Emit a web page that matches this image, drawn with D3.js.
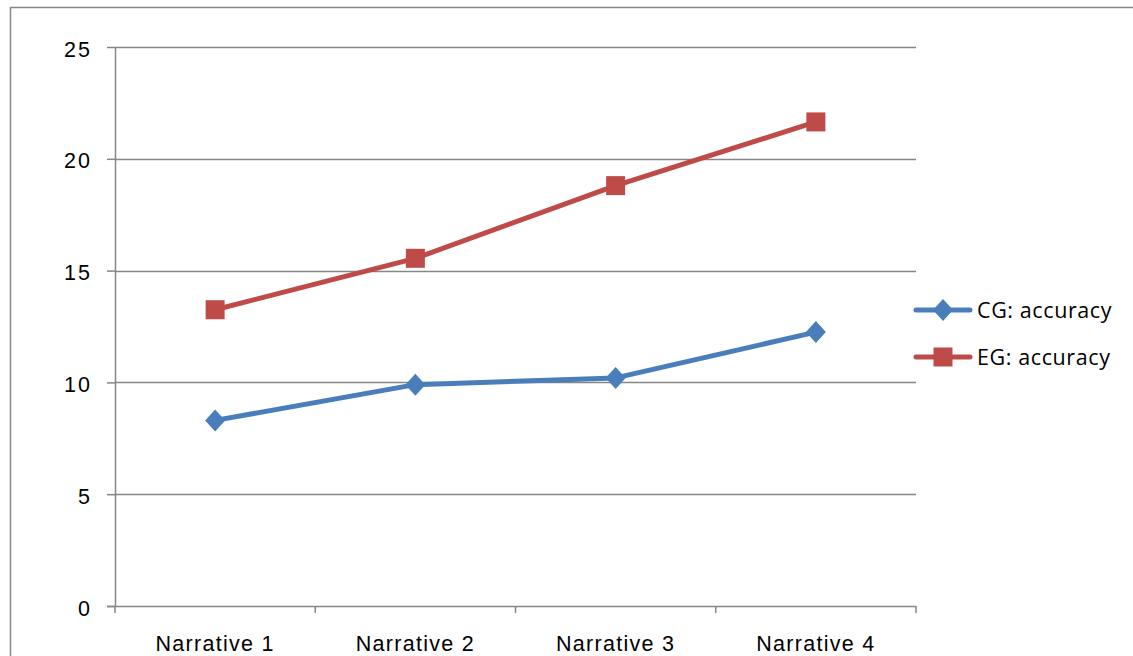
<!DOCTYPE html>
<html>
<head>
<meta charset="utf-8">
<script src="https://cdn.jsdelivr.net/npm/d3@7"></script>
<style>
  html, body { margin: 0; padding: 0; background: #fff; }
  svg { display: block; font-family: "Open Sans", Lato, sans-serif; }
</style>
</head>
<body>
<svg id="chart" width="1133" height="656"></svg>
<script>
// Narrative categories and accuracy per group
const categories = ["Narrative 1", "Narrative 2", "Narrative 3", "Narrative 4"];
const cgAccuracy = [8.3, 9.9, 10.2, 12.25];
const egAccuracy = [13.25, 15.55, 18.8, 21.65];
const seriesNames = ["CG: accuracy", "EG: accuracy"];
const yTicks = [0, 5, 10, 15, 20, 25];

const svg = d3.select("#chart");
const margin = { left: 115, right: 916, top: 47, bottom: 606 };
const gridColor = "#868686";
const fontSize = 21.5;

// outer chart frame
svg.append("rect")
  .attr("x", 10.5).attr("y", 7.5)
  .attr("width", 1140).attr("height", 670)
  .attr("fill", "none").attr("stroke", gridColor).attr("stroke-width", 1.5);

const x = d3.scaleBand().domain(categories).range([margin.left, margin.right]);
const y = d3.scaleLinear().domain([0, 25]).range([margin.bottom, margin.top]);

// horizontal gridlines
svg.append("g").selectAll("line").data(yTicks.filter(d => d > 0)).join("line")
  .attr("x1", margin.left).attr("x2", margin.right)
  .attr("y1", d => Math.round(y(d)) + 0.5).attr("y2", d => Math.round(y(d)) + 0.5)
  .attr("stroke", gridColor).attr("stroke-width", 1.5);

// y axis
const yAxis = svg.append("g")
  .attr("transform", `translate(${margin.left},0)`)
  .call(d3.axisLeft(y).tickValues(yTicks).tickSize(8).tickPadding(15).tickFormat(d3.format("d")));
yAxis.select(".domain").attr("stroke", gridColor).attr("stroke-width", 1.5).attr("d", `M0.5,${margin.top}V${margin.bottom}`);
yAxis.selectAll(".tick line").attr("stroke", gridColor).attr("stroke-width", 1.5);
yAxis.selectAll(".tick text").attr("font-size", fontSize).attr("fill", "#000").attr("dy", "0.42em")
  .attr("letter-spacing", 2);

// x axis with ticks at category boundaries
const xAxis = svg.append("g")
  .attr("transform", `translate(0,${margin.bottom})`)
  .call(d3.axisBottom(x).tickSize(0));
xAxis.select(".domain").attr("stroke", gridColor).attr("stroke-width", 1.5).attr("d", `M${margin.left - 8},0.5H${margin.right}`);
xAxis.selectAll(".tick text").attr("font-size", fontSize).attr("fill", "#000").attr("y", 45).attr("dy", 0)
  .attr("letter-spacing", 1.3);
const bounds = categories.map(c => x(c)).concat([x(categories[categories.length - 1]) + x.bandwidth()]);
xAxis.append("g").selectAll("line").data(bounds).join("line")
  .attr("x1", d => d).attr("x2", d => d).attr("y1", 0).attr("y2", 7)
  .attr("stroke", gridColor).attr("stroke-width", 1.5);

const cx = c => x(c) + x.bandwidth() / 2;
const line = d3.line().x(d => cx(d.cat)).y(d => y(d.v));

const series = [
  { name: seriesNames[0], color: "#4a7ebb", marker: "diamond", values: cgAccuracy },
  { name: seriesNames[1], color: "#be4b48", marker: "square", values: egAccuracy }
];

function drawMarker(g, type, color) {
  if (type === "diamond") {
    g.append("path").attr("d", "M0,-11L10,0L0,11L-10,0Z").attr("fill", color);
  } else {
    g.append("rect").attr("x", -9.5).attr("y", -9.5).attr("width", 19).attr("height", 19).attr("fill", color);
  }
}

series.forEach(s => {
  const pts = s.values.map((v, i) => ({ cat: categories[i], v }));
  svg.append("path").datum(pts)
    .attr("d", line).attr("fill", "none")
    .attr("stroke", s.color).attr("stroke-width", 5).attr("stroke-linejoin", "round");
  pts.forEach(p => {
    const g = svg.append("g").attr("transform", `translate(${cx(p.cat)},${y(p.v)})`);
    drawMarker(g, s.marker, s.color);
  });
});

// legend
const legend = svg.append("g").attr("transform", "translate(916,310)");
series.forEach((s, i) => {
  const g = legend.append("g").attr("transform", `translate(0,${i * 47})`);
  g.append("line").attr("x1", 0).attr("x2", 54).attr("y1", 0).attr("y2", 0)
    .attr("stroke", s.color).attr("stroke-width", 5).attr("stroke-linecap", "round");
  const m = g.append("g").attr("transform", "translate(27,0)");
  drawMarker(m, s.marker, s.color);
  g.append("text").attr("x", 61).attr("y", 0).attr("dy", "0.36em")
    .attr("font-size", fontSize).attr("fill", "#000").attr("letter-spacing", 0.6).text(s.name);
});
</script>
</body>
</html>
